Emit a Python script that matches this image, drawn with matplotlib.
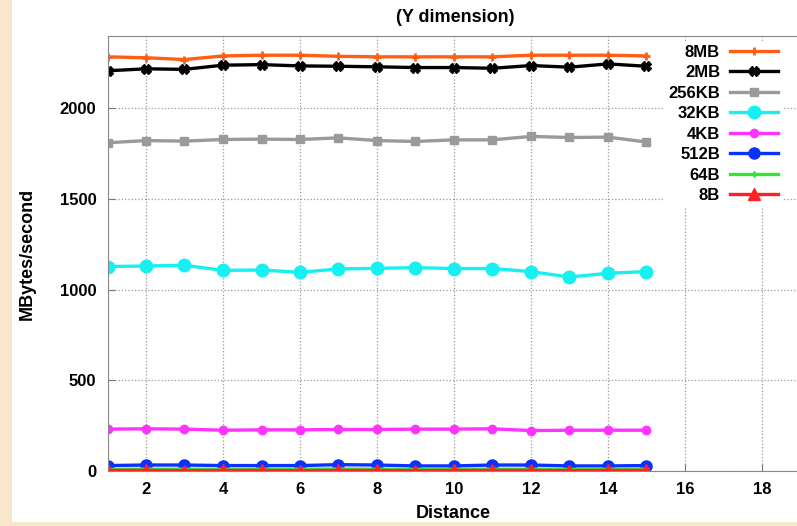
import matplotlib
matplotlib.use('Agg')
import matplotlib.pyplot as plt
from matplotlib.patches import Rectangle

plt.rcParams['font.family'] = ['Liberation Sans', 'DejaVu Sans']
plt.rcParams['font.weight'] = 'bold'

# Data
distance = list(range(1, 16))
mb8 = [2285, 2280, 2270, 2290, 2294, 2294, 2288, 2285, 2285, 2285, 2285, 2294, 2294, 2294, 2290]
mb2 = [2208, 2219, 2216, 2239, 2242, 2235, 2233, 2230, 2226, 2226, 2222, 2237, 2228, 2246, 2233]
kb256 = [1811, 1823, 1820, 1829, 1831, 1829, 1838, 1823, 1818, 1827, 1827, 1846, 1840, 1842, 1815]
kb32 = [1128, 1131, 1135, 1107, 1109, 1096, 1115, 1118, 1122, 1117, 1117, 1100, 1070, 1091, 1100]
kb4 = [231, 233, 231, 225, 227, 227, 229, 229, 231, 231, 233, 223, 225, 225, 225]
b512 = [30, 33, 33, 30, 30, 30, 35, 33, 28, 28, 33, 33, 28, 28, 30]
b64 = [9, 10, 10, 9, 10, 10, 11, 10, 9, 10, 10, 10, 9, 10, 10]
b8 = [3, 3, 2, 3, 3, 2, 3, 3, 2, 3, 3, 3, 2, 3, 3]

labels = ['8MB', '2MB', '256KB', '32KB', '4KB', '512B', '64B', '8B']
series = [mb8, mb2, kb256, kb32, kb4, b512, b64, b8]
colors = ['#ff5e14', '#000000', '#9a9a9a', '#16f0f0', '#ff33ff', '#0a32ff', '#33e633', '#ff2222']
markers = ['+', 'X', 's', 'o', 'o', 'o', '+', '^']
msizes = [6, 7, 6, 9, 6, 8, 5, 8]

fig = plt.figure(figsize=(7.97, 5.26), dpi=100)
fig.patch.set_facecolor('#f8e7cb')
fig.patches.append(Rectangle((12 / 797, 4 / 526), 1, 1, transform=fig.transFigure,
                             facecolor='white', edgecolor='none', zorder=-1))

ax = fig.add_axes([107.5 / 797, 55 / 526, 731.5 / 797, 435 / 526])
ax.set_facecolor('white')

for vals, lab, c, m, ms in zip(series, labels, colors, markers, msizes):
    ax.plot(distance, vals, color=c, lw=2.4, marker=m, markersize=ms,
            markeredgewidth=2 if m == '+' else 1, markeredgecolor=c, label=lab)

ax.set_xlim(1, 20)
ax.set_ylim(0, 2400)
ax.set_xticks(range(2, 19, 2))
ax.set_yticks(range(0, 2001, 500))
ax.grid(True, color='#999999', linestyle=':', linewidth=0.9)
ax.tick_params(direction='in', length=5, color='#777777', labelsize=12, pad=8)
for s in ax.spines.values():
    s.set_color('#888888')

ax.set_xlabel('Distance', fontsize=13, fontweight='bold')
ax.xaxis.label.set_va('center')
ax.xaxis.set_label_coords(0.472, -0.097)
ax.set_ylabel('MBytes/second', fontsize=13, fontweight='bold')
ax.yaxis.label.set_va('center')
ax.yaxis.set_label_coords(-0.110, 0.5)

fig.text(455 / 797, 1 - 17 / 526, '(Y dimension)', ha='center', va='center',
         fontsize=13, fontweight='bold')

leg = ax.legend(loc='upper right', bbox_to_anchor=(790 / 797, 1 - 33 / 526),
                bbox_transform=fig.transFigure, markerfirst=False, fontsize=12,
                handlelength=2.9, handletextpad=0.6, labelspacing=0.33,
                borderpad=0.2, frameon=True, fancybox=False)
leg.get_frame().set_facecolor('white')
leg.get_frame().set_edgecolor('none')
leg.get_frame().set_alpha(1)

fig.savefig('out.png', dpi=100, facecolor=fig.get_facecolor())
